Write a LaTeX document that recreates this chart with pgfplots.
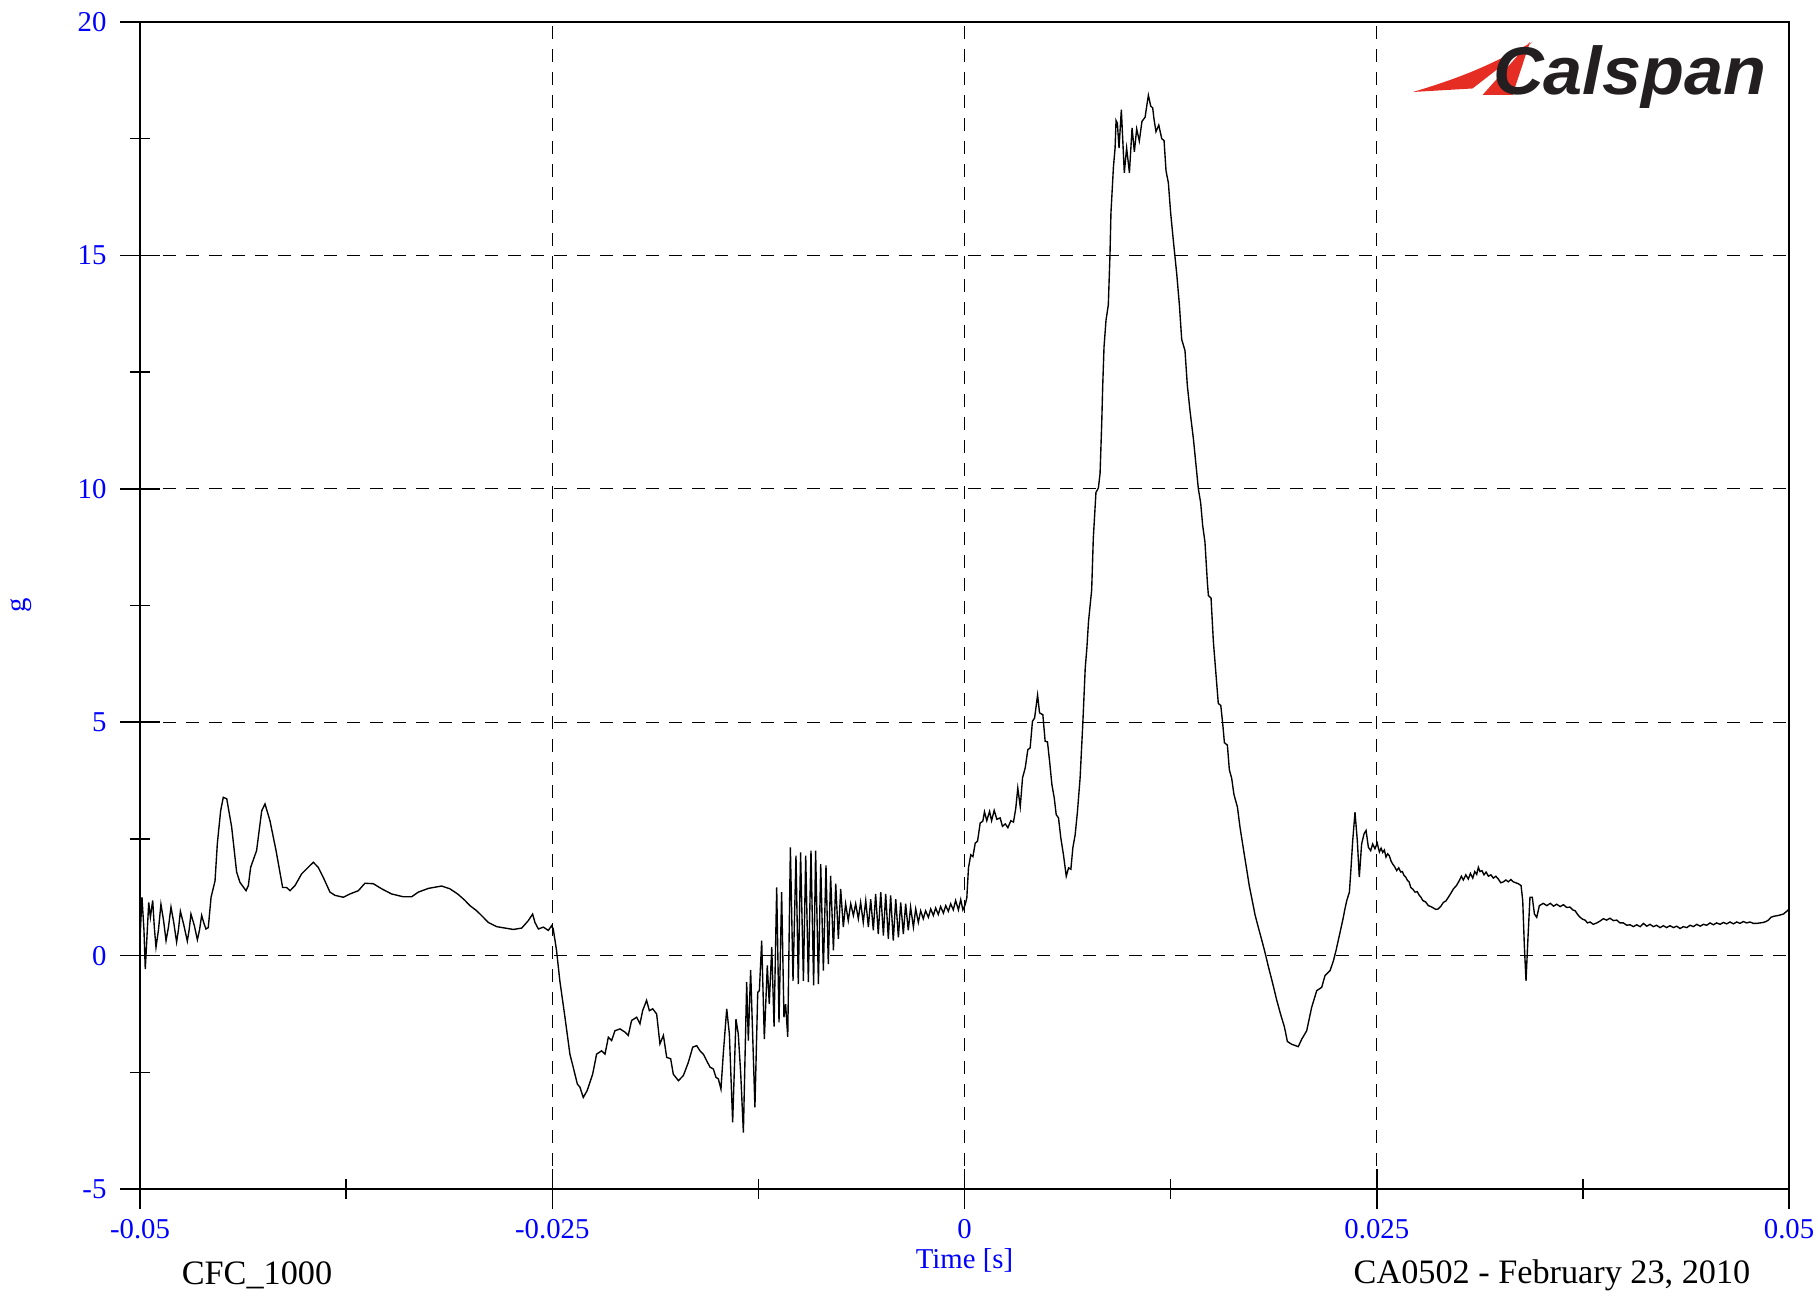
\documentclass[border=0pt]{standalone}
\usepackage{fontspec}
\setmainfont{Liberation Serif}
\newfontfamily\logofont{Liberation Sans}
\usepackage{pgfplots}
\pgfplotsset{compat=1.18}
\definecolor{logored}{RGB}{230,45,35}
\definecolor{logoblack}{RGB}{35,31,32}

\begin{document}
\begin{tikzpicture}
\useasboundingbox (-56pt,-42.8pt) rectangle (671.2pt,475.6pt);
\begin{axis}[
  scale only axis,
  width=659.6pt, height=466.8pt,
  xmin=-0.05, xmax=0.05,
  ymin=-5, ymax=20,
  scaled x ticks=false,
  xtick={-0.05,-0.025,0,0.025,0.05},
  xticklabels={-0.05,-0.025,0,0.025,0.05},
  ytick={-5,0,5,10,15,20},
  yticklabels={-5,0,5,10,15,20},
  minor xtick={-0.0375,-0.0125,0.0125,0.0375},
  minor ytick={-2.5,2.5,7.5,12.5,17.5},
  xtick pos=bottom, ytick pos=left,
  tick align=center,
  major tick length=16pt,
  minor tick length=8pt,
  every tick/.style={black, line width=0.6pt},
  axis line style={line width=0.8pt},
  grid=major,
  major grid style={black, line width=0.4pt, dash pattern=on 5.2pt off 4pt},
  tick label style={font=\fontsize{11.5}{12}\selectfont, text=blue},
  xticklabel style={yshift=-0.8pt},
  yticklabel style={xshift=-1.9pt},
  xlabel={Time [s]},
  xlabel style={at={(axis description cs:0.5,-0.0612)}, anchor=center,
    font=\fontsize{11.5}{12}\selectfont, text=blue},
  ylabel={g},
  ylabel style={at={(axis description cs:-0.0722,0.5)}, anchor=center,
    font=\fontsize{11.5}{12}\selectfont, text=blue},
]
\addplot[black, line width=0.55pt] table {
t g
-0.05000 1.25
-0.04998 0.50
-0.04988 1.25
-0.04976 0.55
-0.04968 -0.29
-0.04947 1.14
-0.04937 0.82
-0.04923 1.18
-0.04913 0.60
-0.04903 0.18
-0.04888 0.55
-0.04873 1.10
-0.04857 0.75
-0.04842 0.32
-0.04827 0.62
-0.04812 1.04
-0.04795 0.70
-0.04778 0.29
-0.04767 0.55
-0.04755 0.95
-0.04734 0.65
-0.04713 0.31
-0.04702 0.55
-0.04691 0.89
-0.04671 0.65
-0.04652 0.34
-0.04639 0.55
-0.04626 0.86
-0.04613 0.70
-0.04600 0.57
-0.04586 0.60
-0.04569 1.25
-0.04545 1.60
-0.04531 2.40
-0.04511 3.10
-0.04495 3.39
-0.04474 3.36
-0.04444 2.75
-0.04414 1.79
-0.04394 1.57
-0.04357 1.39
-0.04343 1.50
-0.04329 1.89
-0.04293 2.25
-0.04262 3.10
-0.04242 3.25
-0.04212 2.89
-0.04175 2.25
-0.04135 1.46
-0.04111 1.46
-0.04090 1.39
-0.04060 1.50
-0.04020 1.75
-0.03989 1.86
-0.03949 2.00
-0.03919 1.89
-0.03884 1.64
-0.03848 1.36
-0.03817 1.29
-0.03767 1.25
-0.03727 1.32
-0.03676 1.39
-0.03636 1.55
-0.03585 1.54
-0.03534 1.43
-0.03474 1.32
-0.03403 1.26
-0.03353 1.26
-0.03312 1.36
-0.03251 1.44
-0.03171 1.49
-0.03120 1.43
-0.03070 1.31
-0.03029 1.18
-0.02999 1.07
-0.02958 0.96
-0.02918 0.82
-0.02888 0.71
-0.02837 0.62
-0.02787 0.59
-0.02736 0.56
-0.02685 0.59
-0.02645 0.75
-0.02619 0.89
-0.02605 0.71
-0.02584 0.57
-0.02554 0.61
-0.02524 0.54
-0.02504 0.64
-0.02494 0.57
-0.02474 0.11
-0.02454 -0.54
-0.02423 -1.32
-0.02393 -2.11
-0.02373 -2.39
-0.02348 -2.75
-0.02332 -2.82
-0.02312 -3.04
-0.02288 -2.89
-0.02255 -2.54
-0.02231 -2.11
-0.02201 -2.04
-0.02180 -2.11
-0.02160 -1.75
-0.02140 -1.82
-0.02120 -1.61
-0.02089 -1.57
-0.02059 -1.64
-0.02039 -1.71
-0.02019 -1.39
-0.01988 -1.32
-0.01968 -1.46
-0.01952 -1.18
-0.01928 -0.96
-0.01911 -1.18
-0.01891 -1.14
-0.01867 -1.25
-0.01847 -1.89
-0.01826 -1.71
-0.01806 -2.18
-0.01782 -2.21
-0.01766 -2.54
-0.01735 -2.68
-0.01705 -2.57
-0.01675 -2.29
-0.01648 -1.96
-0.01624 -1.93
-0.01604 -2.04
-0.01584 -2.11
-0.01564 -2.25
-0.01543 -2.39
-0.01523 -2.43
-0.01507 -2.61
-0.01493 -2.64
-0.01477 -2.86
-0.01463 -2.11
-0.01442 -1.14
-0.01426 -1.68
-0.01406 -3.57
-0.01386 -1.36
-0.01372 -1.68
-0.01357 -2.54
-0.01341 -3.79
-0.01321 -0.57
-0.01311 -1.82
-0.01297 -0.31
-0.01271 -3.25
-0.01254 -0.79
-0.01244 -0.75
-0.01230 0.32
-0.01214 -1.79
-0.01196 -0.21
-0.01184 -1.04
-0.01169 0.18
-0.01155 -1.52
-0.01139 1.46
-0.01125 -1.43
-0.01109 1.36
-0.01095 -1.32
-0.01085 -1.04
-0.01072 -1.74
-0.01056 2.32
-0.01040 -0.54
-0.01022 2.14
-0.01008 -0.61
-0.00994 2.21
-0.00977 -0.54
-0.00963 2.14
-0.00947 -0.57
-0.00931 2.25
-0.00915 -0.64
-0.00903 2.25
-0.00886 -0.61
-0.00872 1.96
-0.00856 -0.32
-0.00840 1.93
-0.00826 -0.18
-0.00812 1.71
-0.00795 0.11
-0.00781 1.54
-0.00765 0.36
-0.00751 1.43
-0.00735 0.61
-0.00721 1.11
-0.00705 0.75
-0.00690 1.11
-0.00674 0.86
-0.00660 1.11
-0.00644 0.79
-0.00630 1.14
-0.00614 0.71
-0.00599 1.18
-0.00583 0.61
-0.00569 1.21
-0.00553 0.54
-0.00539 1.32
-0.00523 0.46
-0.00508 1.36
-0.00492 0.43
-0.00478 1.32
-0.00462 0.36
-0.00448 1.29
-0.00432 0.32
-0.00417 1.21
-0.00401 0.39
-0.00387 1.14
-0.00371 0.46
-0.00357 1.11
-0.00341 0.54
-0.00327 1.04
-0.00310 0.61
-0.00296 1.00
-0.00280 0.71
-0.00266 0.96
-0.00250 0.79
-0.00236 0.96
-0.00219 0.82
-0.00205 1.00
-0.00189 0.86
-0.00175 1.02
-0.00159 0.88
-0.00145 1.05
-0.00128 0.91
-0.00114 1.07
-0.00098 0.95
-0.00084 1.11
-0.00068 0.98
-0.00054 1.18
-0.00037 0.98
-0.00023 1.20
-0.00010 0.98
0.00004 1.09
0.00014 1.24
0.00024 1.88
0.00038 2.16
0.00051 2.12
0.00065 2.41
0.00079 2.45
0.00095 2.84
0.00111 2.88
0.00121 3.08
0.00135 2.89
0.00152 3.09
0.00164 2.89
0.00180 3.11
0.00196 2.92
0.00216 2.95
0.00230 2.77
0.00247 2.82
0.00263 2.74
0.00281 2.89
0.00297 2.86
0.00311 3.16
0.00323 3.59
0.00338 3.19
0.00352 3.81
0.00368 4.02
0.00384 4.41
0.00398 4.45
0.00412 5.02
0.00425 5.09
0.00443 5.58
0.00455 5.20
0.00475 5.16
0.00489 4.59
0.00503 4.58
0.00516 4.16
0.00530 3.66
0.00544 3.38
0.00556 3.02
0.00570 2.95
0.00584 2.52
0.00600 2.16
0.00617 1.70
0.00631 1.88
0.00645 1.85
0.00657 2.31
0.00671 2.59
0.00685 3.09
0.00701 3.81
0.00718 5.02
0.00732 6.16
0.00742 6.59
0.00752 7.16
0.00771 7.83
0.00781 8.94
0.00797 9.92
0.00812 10.02
0.00822 10.33
0.00832 11.40
0.00838 12.20
0.00846 13.04
0.00858 13.61
0.00872 13.94
0.00882 15.00
0.00888 15.91
0.00903 16.89
0.00913 17.30
0.00919 17.89
0.00927 17.83
0.00937 17.30
0.00951 18.12
0.00969 16.77
0.00983 17.30
0.01000 16.77
0.01016 17.73
0.01030 17.22
0.01044 17.71
0.01060 17.45
0.01076 17.87
0.01095 17.96
0.01105 18.20
0.01115 18.43
0.01129 18.20
0.01141 18.16
0.01149 17.92
0.01161 17.65
0.01178 17.79
0.01196 17.50
0.01210 17.46
0.01222 16.81
0.01236 16.56
0.01250 15.91
0.01266 15.33
0.01287 14.60
0.01303 13.94
0.01317 13.20
0.01337 12.96
0.01351 12.22
0.01368 11.65
0.01388 11.07
0.01404 10.50
0.01418 10.00
0.01432 9.70
0.01444 9.22
0.01458 8.86
0.01473 7.98
0.01479 7.71
0.01495 7.66
0.01509 6.73
0.01525 6.02
0.01539 5.40
0.01554 5.36
0.01566 4.96
0.01576 4.56
0.01594 4.51
0.01606 3.98
0.01620 3.80
0.01634 3.45
0.01655 3.18
0.01671 2.74
0.01691 2.29
0.01711 1.85
0.01727 1.49
0.01742 1.23
0.01762 0.87
0.01782 0.60
0.01802 0.34
0.01822 0.07
0.01843 -0.24
0.01869 -0.60
0.01893 -0.95
0.01917 -1.26
0.01940 -1.53
0.01958 -1.84
0.01984 -1.90
0.02024 -1.95
0.02045 -1.79
0.02075 -1.61
0.02105 -1.11
0.02136 -0.75
0.02166 -0.68
0.02186 -0.43
0.02217 -0.32
0.02237 -0.11
0.02253 0.11
0.02273 0.43
0.02293 0.75
0.02307 1.00
0.02318 1.18
0.02334 1.36
0.02344 1.89
0.02354 2.46
0.02368 3.07
0.02382 2.46
0.02394 1.68
0.02408 2.39
0.02423 2.61
0.02435 2.68
0.02449 2.32
0.02463 2.25
0.02475 2.39
0.02489 2.29
0.02503 2.41
0.02510 2.30
0.02516 2.22
0.02526 2.30
0.02536 2.21
0.02546 2.26
0.02556 2.11
0.02566 2.18
0.02576 2.14
0.02587 2.02
0.02597 1.96
0.02609 1.90
0.02621 1.82
0.02633 1.88
0.02645 1.79
0.02655 1.80
0.02665 1.72
0.02676 1.68
0.02686 1.61
0.02696 1.58
0.02706 1.46
0.02719 1.42
0.02732 1.36
0.02745 1.37
0.02758 1.29
0.02768 1.25
0.02779 1.18
0.02796 1.15
0.02813 1.07
0.02828 1.05
0.02843 1.02
0.02858 0.99
0.02873 1.00
0.02889 1.06
0.02904 1.14
0.02919 1.17
0.02934 1.25
0.02950 1.34
0.02965 1.43
0.02983 1.50
0.03001 1.61
0.03013 1.70
0.03025 1.62
0.03040 1.73
0.03055 1.64
0.03068 1.76
0.03082 1.66
0.03094 1.80
0.03106 1.74
0.03116 1.89
0.03126 1.80
0.03138 1.82
0.03150 1.73
0.03163 1.79
0.03177 1.70
0.03192 1.73
0.03207 1.66
0.03222 1.70
0.03237 1.64
0.03252 1.56
0.03268 1.58
0.03283 1.62
0.03298 1.58
0.03313 1.63
0.03328 1.58
0.03343 1.56
0.03358 1.54
0.03375 1.50
0.03385 1.18
0.03395 0.20
0.03405 -0.54
0.03417 0.39
0.03429 1.25
0.03443 1.25
0.03456 0.89
0.03470 0.82
0.03486 1.07
0.03510 1.12
0.03531 1.07
0.03552 1.12
0.03572 1.06
0.03591 1.10
0.03612 1.05
0.03632 1.09
0.03652 1.03
0.03672 1.04
0.03688 0.98
0.03703 0.96
0.03718 0.88
0.03733 0.82
0.03748 0.78
0.03763 0.76
0.03778 0.70
0.03793 0.72
0.03813 0.67
0.03834 0.70
0.03854 0.74
0.03874 0.79
0.03894 0.76
0.03914 0.80
0.03935 0.75
0.03955 0.76
0.03975 0.70
0.03995 0.70
0.04016 0.65
0.04036 0.66
0.04056 0.62
0.04076 0.66
0.04097 0.62
0.04117 0.69
0.04137 0.63
0.04157 0.67
0.04177 0.62
0.04197 0.65
0.04218 0.60
0.04238 0.64
0.04258 0.60
0.04278 0.64
0.04299 0.60
0.04319 0.63
0.04339 0.58
0.04359 0.62
0.04380 0.60
0.04400 0.65
0.04420 0.62
0.04440 0.67
0.04461 0.63
0.04481 0.67
0.04501 0.65
0.04521 0.70
0.04541 0.66
0.04561 0.70
0.04582 0.67
0.04602 0.71
0.04622 0.68
0.04642 0.72
0.04663 0.68
0.04683 0.72
0.04703 0.69
0.04723 0.73
0.04743 0.70
0.04763 0.72
0.04784 0.69
0.04804 0.69
0.04824 0.70
0.04844 0.71
0.04860 0.73
0.04875 0.76
0.04890 0.82
0.04905 0.84
0.04935 0.86
0.04966 0.89
0.04996 0.98
0.05000 1.00
};
\end{axis}
% footer texts below the axis
\node[font=\fontsize{13.7}{14}\selectfont, anchor=center] at (46.8pt,-34.4pt) {CFC\_1000};
\node[font=\fontsize{13.7}{14}\selectfont, anchor=center] at (564.8pt,-34.4pt) {CA0502 - February 23, 2010};
% Calspan logo
\fill[logored] (509.2pt,438.8pt) to[bend right=6] (557pt,458.8pt) -- (533pt,440.2pt) -- cycle;
\fill[logored] (537pt,437.6pt) -- (556pt,458.8pt) -- (549pt,437.6pt) -- cycle;
\node[anchor=base west, inner sep=0pt, text=logoblack]
  at (541pt,437.6pt) {\scalebox{1.04}[1]{\logofont\bfseries\itshape\fontsize{27}{27}\selectfont Calspan}};
\end{tikzpicture}
\end{document}
